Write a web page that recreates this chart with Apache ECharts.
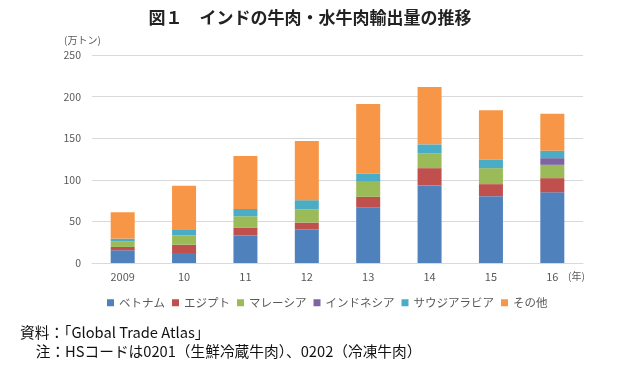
<!DOCTYPE html>
<html><head><meta charset="utf-8">
<script src="https://cdn.jsdelivr.net/npm/echarts@6/dist/echarts.min.js"></script>
<style>html,body{margin:0;padding:0;background:#fff}#c{width:620px;height:373px}</style>
</head><body><div id="c"></div>
<script>
const categories = ['2009','10','11','12','13','14','15','16'];
const seriesNames = ['ベトナム','エジプト','マレーシア','インドネシア','サウジアラビア','その他'];
const vietnam   = [15.3, 12, 33, 40.2, 67, 93.2, 80.3, 85];
const egypt     = [4, 10, 9.2, 8.4, 12.5, 20.8, 14.5, 17];
const malaysia  = [6.4, 11.3, 14, 15.7, 18.1, 18, 19.2, 16];
const indonesia = [0, 0, 0, 0, 0, 0, 0, 8];
const saudi     = [3.6, 6.5, 8.8, 11.2, 10, 10.6, 10.5, 9];
const others    = [31.7, 53, 63.5, 71.1, 83.6, 69, 59, 44.5];
const yTicks = [0, 50, 100, 150, 200, 250];

const colors = ['#4F81BD','#C0504D','#9BBB59','#8064A2','#4BACC6','#F79646'];
const values = [vietnam, egypt, malaysia, indonesia, saudi, others];
const FONT = '"Noto Sans CJK JP", "Noto Sans", sans-serif';

const chart = echarts.init(document.getElementById('c'), null, {renderer:'canvas'});
chart.setOption({
  animation: false,
  backgroundColor: '#fff',
  color: colors,
  textStyle: {fontFamily: FONT},
  title: {
    text: '図１　インドの牛肉・水牛肉輸出量の推移',
    left: 'center', top: 4,
    textStyle: {fontSize: 17, fontWeight: 'bold', color: '#222', fontFamily: FONT}
  },
  grid: {left: 92, right: 37, top: 55, bottom: 110, containLabel: false},
  legend: {
    data: seriesNames,
    left: 102, top: 292,
    itemWidth: 7, itemHeight: 7, itemGap: 7,
    icon: 'rect',
    textStyle: {fontSize: 11.5, color: '#595959', fontFamily: FONT}
  },
  xAxis: {
    type: 'category',
    data: categories,
    axisLine: {show: true, lineStyle: {color: '#d9d9d9'}},
    axisTick: {show: false},
    axisLabel: {color: '#595959', fontSize: 11, margin: 8, fontFamily: FONT}
  },
  yAxis: {
    type: 'value',
    min: yTicks[0], max: yTicks[yTicks.length-1], interval: 50,
    axisLine: {show: false},
    axisTick: {show: false},
    splitLine: {lineStyle: {color: '#d9d9d9'}},
    axisLabel: {color: '#595959', fontSize: 10.5, margin: 11, fontFamily: FONT}
  },
  graphic: [
    {type:'text', left: 64, top: 35, style:{text:'(万トン)', fill:'#595959', font:'10px ' + FONT}},
    {type:'text', left: 568, top: 271, style:{text:'(年)', fill:'#595959', font:'10px ' + FONT}},
    {type:'text', left: 20, top: 325, style:{text:'資料：「Global Trade Atlas」', fill:'#111', font:'14.7px ' + FONT}},
    {type:'text', left: 21, top: 344, style:{text:'　注：HSコードは0201（生鮮冷蔵牛肉）、0202（冷凍牛肉）', fill:'#111', font:'14.7px ' + FONT}}
  ],
  series: seriesNames.map((n, i) => ({
    name: n, type: 'bar', stack: 'total', barWidth: 24,
    data: values[i],
    itemStyle: {color: colors[i]}
  }))
});
</script></body></html>
